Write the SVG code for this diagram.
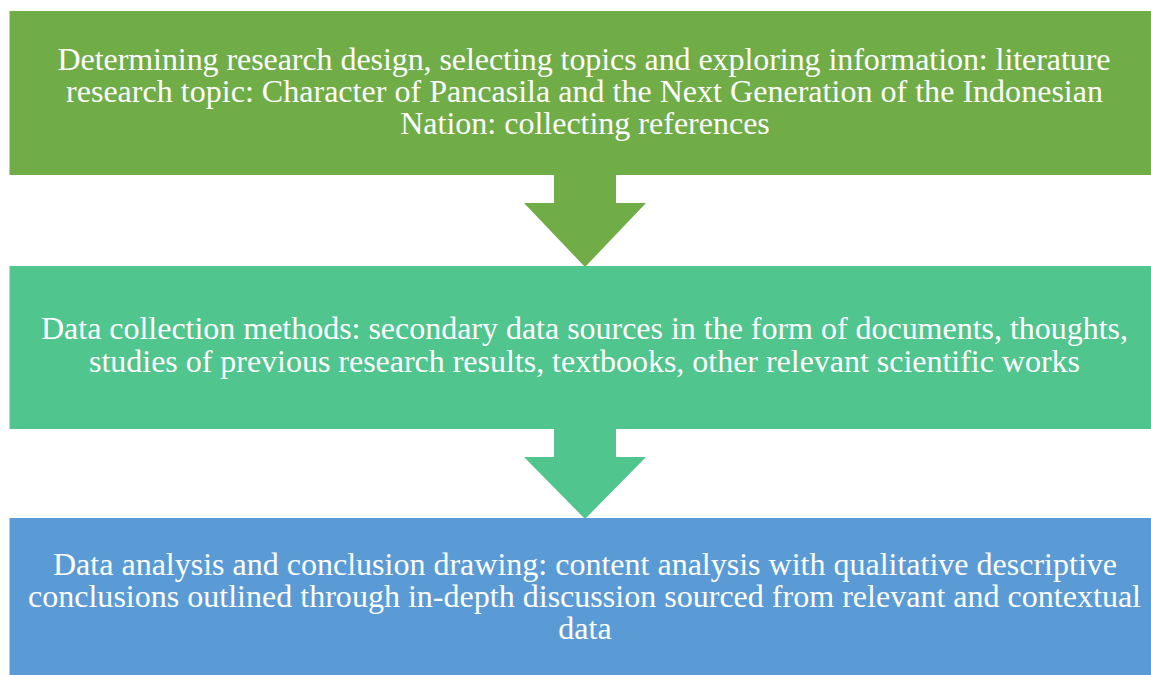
<svg xmlns="http://www.w3.org/2000/svg" width="1151" height="675" viewBox="0 0 1151 675">
<style>
text{font-family:"Liberation Serif","Times New Roman",serif;font-size:32px;fill:#ffffff;text-anchor:middle}
.g1{fill:#70AD47}.g2{fill:#50C58D}.g3{fill:#5B9BD5}
</style>
<rect width="1151" height="675" fill="#ffffff"/>
<g id="connectors">
<polygon class="g1" points="554,175 616,175 616,203 646,203 585,267 524,203 554,203"/>
<polygon class="g2" points="554,429 616,429 616,457 646,457 585,519 524,457 554,457"/>
</g>
<g id="node1">
<rect class="g1" x="9.5" y="11" width="1142" height="164"/>
<text x="584" y="69.5" textLength="1053" lengthAdjust="spacing">Determining research design, selecting topics and exploring information: literature</text>
<text x="584.5" y="101.5" textLength="1037" lengthAdjust="spacing">research topic: Character of Pancasila and the Next Generation of the Indonesian</text>
<text x="585" y="133.5">Nation: collecting references</text>
</g>
<g id="node2">
<rect class="g2" x="9.5" y="266" width="1142" height="163"/>
<text x="584.5" y="338.5" textLength="1087" lengthAdjust="spacing">Data collection methods: secondary data sources in the form of documents, thoughts,</text>
<text x="584.5" y="372" textLength="991" lengthAdjust="spacing">studies of previous research results, textbooks, other relevant scientific works</text>
</g>
<g id="node3">
<rect class="g3" x="9.5" y="518" width="1142" height="157"/>
<text x="585" y="575" textLength="1064" lengthAdjust="spacing">Data analysis and conclusion drawing: content analysis with qualitative descriptive</text>
<text x="584.5" y="607" textLength="1113" lengthAdjust="spacing">conclusions outlined through in-depth discussion sourced from relevant and contextual</text>
<text x="585" y="639">data</text>
</g>
</svg>
